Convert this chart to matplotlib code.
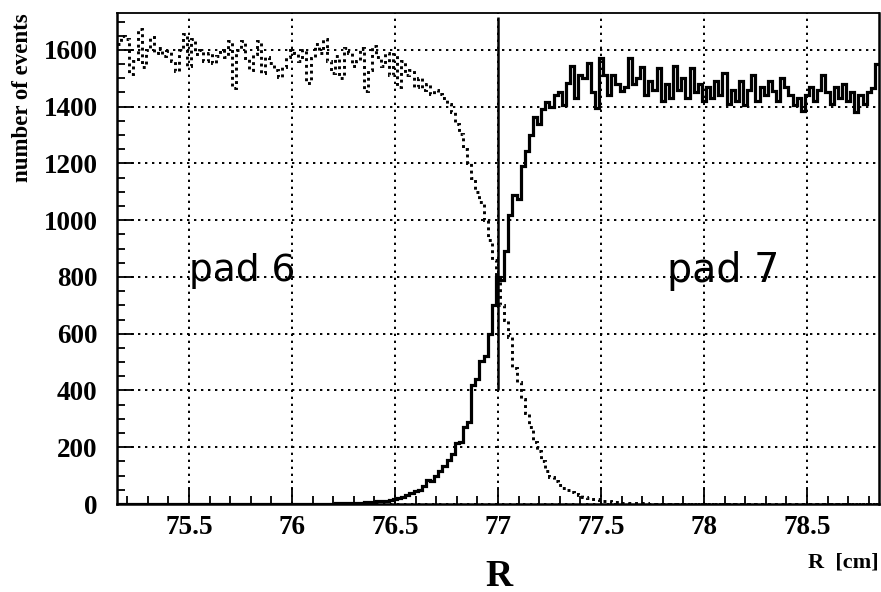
import numpy as np
import matplotlib
matplotlib.use("Agg")
import matplotlib.pyplot as plt
from matplotlib.ticker import MultipleLocator, FixedLocator

# histogram binning: 0.02 cm bins over the shown range
R_LO, R_HI, N_BINS = 75.15, 78.85, 185

# pad 6 (dotted), rows of 10 bins starting at 75.16
pad6_counts = [
    1620, 1650, 1640, 1515, 1560, 1675, 1540, 1600, 1645, 1590,
    1605, 1580, 1595, 1560, 1525, 1600, 1655, 1545, 1640, 1585,
    1600, 1560, 1590, 1555, 1580, 1600, 1575, 1630, 1465, 1600,
    1630, 1570, 1530, 1585, 1630, 1520, 1575, 1555, 1530, 1505,
    1540, 1575, 1600, 1590, 1560, 1600, 1485, 1570, 1620, 1590,
    1640, 1560, 1520, 1580, 1500, 1605, 1590, 1545, 1560, 1605,
    1455, 1530, 1615, 1575, 1545, 1590, 1510, 1585, 1470, 1560,
    1510, 1530, 1470, 1500, 1460, 1480, 1445, 1460, 1445, 1430,
    1410, 1380, 1340, 1305, 1250, 1200, 1150, 1100, 1065, 1000,
    930, 860, 790, 700, 650, 590, 480, 430, 370, 320,
    270, 220, 185, 150, 115, 95, 80, 68, 58, 50,
    42, 36, 30, 26, 22, 19, 16, 14, 11, 9,
    8, 6, 5, 5, 4, 3, 3, 2, 2, 1,
    1] + [0] * 54

# pad 7 (solid)
pad7_counts = [0] * 50 + [
    0, 1, 1, 2, 2, 3, 3, 4, 5, 5,
    6, 7, 8, 9, 10, 12, 13, 16, 20, 25,
    30, 40, 45, 50, 62, 85, 80, 100, 118, 135,
    155, 175, 215, 220, 270, 290, 420, 440, 505, 520,
    600, 700, 800, 790, 890, 1020, 1090, 1075, 1190, 1245,
    1300, 1365, 1340, 1390, 1415, 1400, 1440, 1450, 1405, 1485,
    1545, 1430, 1510, 1500, 1555, 1450, 1395, 1570, 1510, 1440,
    1510, 1480, 1455, 1470, 1570, 1480, 1500, 1540, 1440, 1490,
    1460, 1535, 1420, 1480, 1430, 1545, 1460, 1500, 1430, 1535,
    1450, 1480, 1420, 1470, 1430, 1490, 1440, 1520, 1410, 1460,
    1420, 1490, 1405, 1460, 1510, 1420, 1470, 1440, 1490, 1455,
    1420, 1500, 1470, 1440, 1405, 1430, 1385, 1440, 1470, 1420,
    1460, 1510, 1450, 1410, 1470, 1430, 1480, 1420, 1450, 1380,
    1440, 1410, 1450, 1465, 1550]

boundary_r = 77.0
boundary_span = [400, 1715]

x_ticks = [75.5, 76, 76.5, 77, 77.5, 78, 78.5]
x_labels = ["75.5", "76", "76.5", "77", "77.5", "78", "78.5"]
y_ticks = [0, 200, 400, 600, 800, 1000, 1200, 1400, 1600]
y_labels = [str(v) for v in y_ticks]

assert len(pad6_counts) == N_BINS and len(pad7_counts) == N_BINS
edges = np.linspace(R_LO, R_HI, N_BINS + 1)

plt.rcParams['font.family'] = ['Liberation Serif', 'DejaVu Serif']

fig = plt.figure(figsize=(8.81, 5.92), dpi=100)
ax = fig.add_axes([117 / 881, 1 - 504 / 592, 762 / 881, 491 / 592])

ax.stairs(pad6_counts, edges, baseline=None, color='black', lw=2.1,
          linestyle=(0, (1, 1.3)))
ax.stairs(pad7_counts, edges, baseline=None, color='black', lw=2.3)
ax.vlines(boundary_r, boundary_span[0], boundary_span[1], color='black', lw=1.8)

ax.set_xlim(R_LO, R_HI)
ax.set_ylim(0, 1730)

ax.xaxis.set_major_locator(FixedLocator(x_ticks))
ax.set_xticklabels(x_labels, fontsize=19.5, fontweight='bold')
ax.xaxis.set_minor_locator(MultipleLocator(0.1))
ax.set_yticks(y_ticks)
ax.set_yticklabels(y_labels, fontsize=19.5, fontweight='bold')
ax.yaxis.set_minor_locator(MultipleLocator(50))

ax.tick_params(which='both', direction='in', top=False, right=False, width=1.3)
ax.tick_params(which='major', length=12)
ax.tick_params(which='minor', length=6)
ax.tick_params(axis='x', pad=8)
ax.tick_params(axis='y', pad=14)

ax.grid(True, which='major', color='black', lw=1.4, linestyle=(0, (1.2, 2.4)))
for side in ['left', 'bottom', 'right']:
    ax.spines[side].set_linewidth(1.8)
ax.spines['top'].set_linewidth(1.3)

ax.text(75.5, 820, "pad 6", fontsize=27, family='DejaVu Sans', va='center', ha='left')
ax.text(77.82, 820, "pad 7", fontsize=28.5, family='DejaVu Sans', va='center', ha='left')

fig.text(23 / 881, 1 - 13 / 592, "number of events", rotation=90, ha='center',
         va='top', fontsize=16.5, fontweight='bold')
fig.text(879 / 881, 1 - 563 / 592, "R  [cm]", ha='right', va='center',
         fontsize=16, fontweight='bold')
fig.text(499 / 881, 1 - 576 / 592, "R", ha='center', va='center',
         fontsize=27, fontweight='bold')

fig.savefig("out.png", dpi=100)
